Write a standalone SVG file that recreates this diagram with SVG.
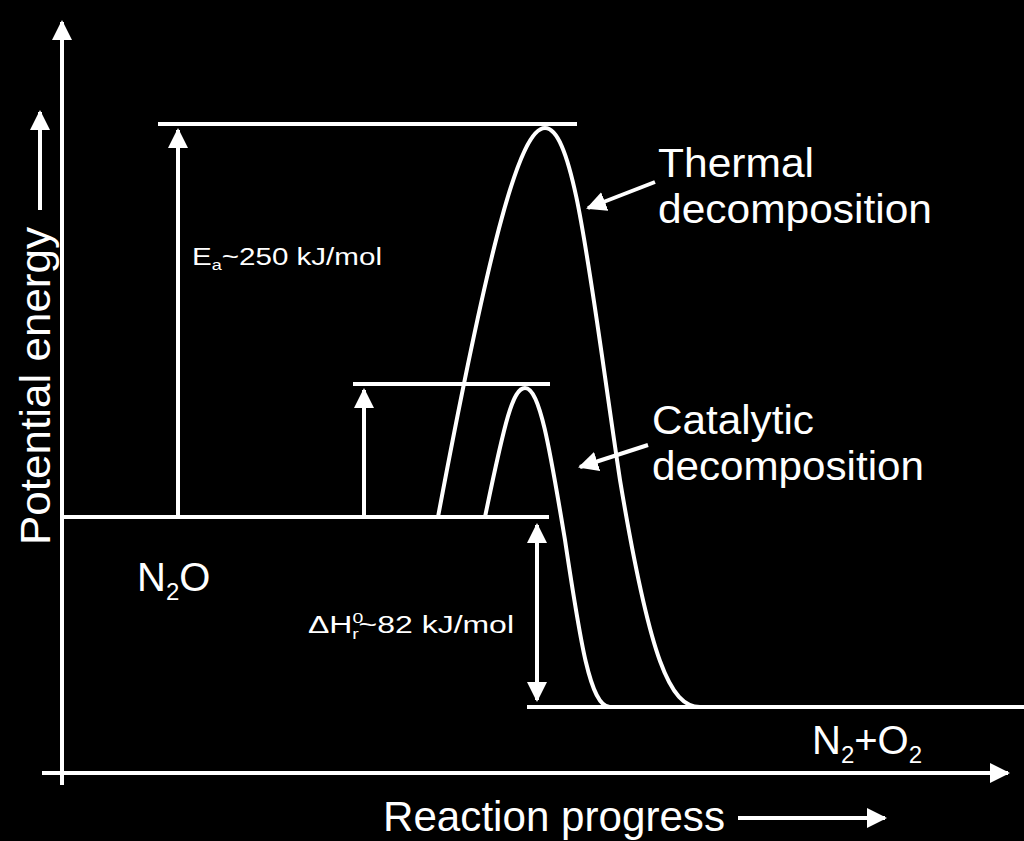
<svg xmlns="http://www.w3.org/2000/svg" width="1024" height="841" viewBox="0 0 1024 841">
<style>
.l{stroke:#fff;stroke-width:4;fill:none}
.t{fill:#fff;font-family:"Liberation Sans",Arial,sans-serif}
</style>
<defs>
<marker id="a" viewBox="0 0 10 10" refX="9" refY="5" markerWidth="5" markerHeight="5" orient="auto-start-reverse"><path d="M0,0L10,5L0,10z" fill="#fff"/></marker>
</defs>
<rect width="1024" height="841" fill="#000"/>
<g id="axes">
<line class="l" x1="62" y1="785" x2="62" y2="22" marker-end="url(#a)"/>
<line class="l" x1="42" y1="773" x2="1008" y2="773" marker-end="url(#a)"/>
</g>
<g id="levels">
<line class="l" x1="158" y1="124" x2="577" y2="124"/>
<line class="l" x1="353" y1="384" x2="550" y2="384"/>
<line class="l" x1="62" y1="517" x2="549" y2="517"/>
<line class="l" x1="527" y1="707" x2="1024" y2="707"/>
</g>
<g id="curves">
<path class="l" d="M438,517 C490,240 520,128 545,128 C575,128 590,280 620,480 C650,660 670,707 700,707"/>
<path class="l" d="M485,517 C505,420 513,388 525,388 C540,388 550,450 565,540 C580,640 590,707 610,707"/>
</g>
<g id="connectors">
<line class="l" x1="178" y1="517" x2="178" y2="130" marker-end="url(#a)"/>
<line class="l" x1="364" y1="517" x2="364" y2="390" marker-end="url(#a)"/>
<line class="l" x1="537" y1="525" x2="537" y2="700" marker-start="url(#a)" marker-end="url(#a)"/>
<line class="l" x1="655" y1="182" x2="588" y2="208" marker-end="url(#a)"/>
<line class="l" x1="648" y1="445" x2="580" y2="467" marker-end="url(#a)"/>
<line class="l" x1="738" y1="818" x2="885" y2="818" marker-end="url(#a)"/>
<line class="l" x1="40" y1="210" x2="40" y2="112" marker-end="url(#a)"/>
</g>
<g id="labels">
<text class="t" x="658" y="177" font-size="41" textLength="156" lengthAdjust="spacingAndGlyphs">Thermal</text>
<text class="t" x="658" y="223" font-size="41" textLength="274" lengthAdjust="spacingAndGlyphs">decomposition</text>
<text class="t" x="652" y="434" font-size="41" textLength="162" lengthAdjust="spacingAndGlyphs">Catalytic</text>
<text class="t" x="652" y="480" font-size="41" textLength="272" lengthAdjust="spacingAndGlyphs">decomposition</text>
<text class="t" x="192" y="265" font-size="23" textLength="190" lengthAdjust="spacingAndGlyphs">E<tspan font-size="14" dy="5">a</tspan><tspan dy="-5">~250 kJ/mol</tspan></text>
<text class="t" x="308" y="633" font-size="23" textLength="206" lengthAdjust="spacingAndGlyphs">ΔH<tspan font-size="14" dy="-10">0</tspan><tspan font-size="14" dx="-8" dy="16">r</tspan><tspan dy="-6">~82 kJ/mol</tspan></text>
<text class="t" x="137" y="591" font-size="40">N<tspan font-size="24" dy="9">2</tspan><tspan dy="-9">O</tspan></text>
<text class="t" x="812" y="754" font-size="40">N<tspan font-size="24" dy="9">2</tspan><tspan dy="-9">+O</tspan><tspan font-size="24" dy="9">2</tspan></text>
<text class="t" x="383" y="831" font-size="42" textLength="342" lengthAdjust="spacingAndGlyphs">Reaction progress</text>
<text class="t" transform="translate(50,545) rotate(-90)" font-size="42" textLength="318" lengthAdjust="spacingAndGlyphs">Potential energy</text>
</g>
</svg>
